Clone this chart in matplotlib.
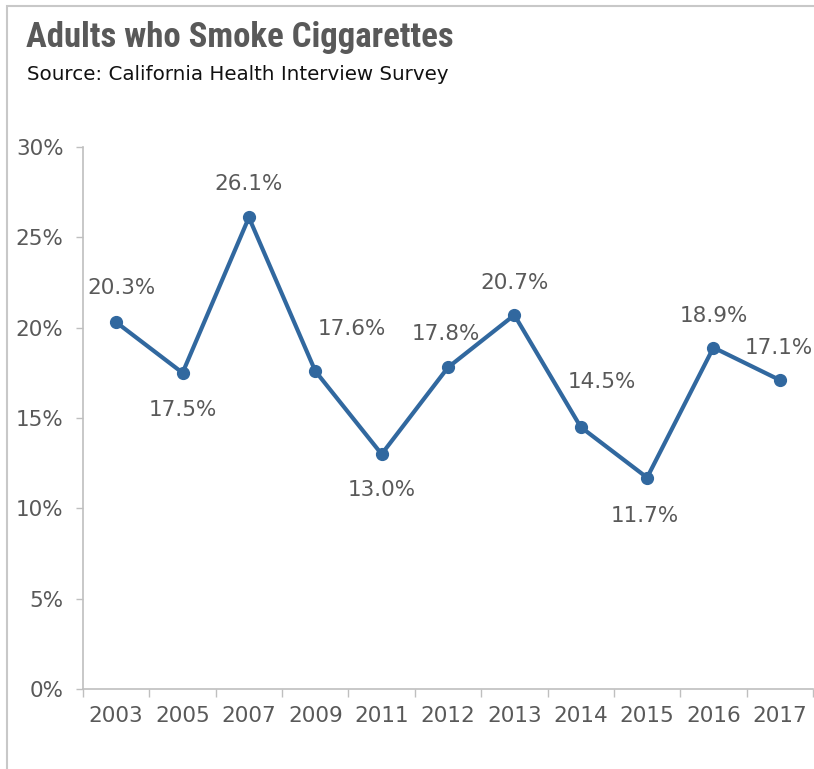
import matplotlib
matplotlib.use("Agg")
import matplotlib.pyplot as plt
from matplotlib.patches import Rectangle
from matplotlib.ticker import FuncFormatter, FixedLocator

years = ["2003", "2005", "2007", "2009", "2011", "2012", "2013", "2014", "2015", "2016", "2017"]
values = [20.3, 17.5, 26.1, 17.6, 13.0, 17.8, 20.7, 14.5, 11.7, 18.9, 17.1]
y_ticks = [0, 5, 10, 15, 20, 25, 30]

# label offsets in pixels (dx, dy; dy positive = up)
label_offsets = [(5, 34), (0, -37), (0, 33), (37, 42), (0, -36), (-2, 33),
                 (0, 32), (21, 45), (-2, -38), (0, 32), (-1, 32)]

DPI = 100
fig = plt.figure(figsize=(8.14, 7.69), dpi=DPI)
W, H = 814, 769

# outer border
fig.patches.append(Rectangle((7 / W, -0.1), 1.2, 1 - 6 / H + 0.1, transform=fig.transFigure,
                             fill=False, edgecolor="#c8c8c8", linewidth=1.5))

ax = fig.add_axes([83 / W, 1 - 689 / H, (813 - 83) / W, (689 - 147) / H])
gray = "#595959"
blue = "#31689f"
font = "DejaVu Sans"
fs = 15.5

x = list(range(len(years)))
ax.plot(x, values, color=blue, linewidth=3, marker="o", markersize=8.5, solid_capstyle="round")

for xi, v, (dx, dy) in zip(x, values, label_offsets):
    ax.annotate(f"{v:.1f}%", (xi, v), xytext=(dx * 72 / DPI, dy * 72 / DPI),
                textcoords="offset points", ha="center", va="center",
                fontsize=fs, color=gray, family=font)

ax.set_xlim(-0.5, len(years) - 0.5)
ax.set_ylim(0, 30)
ax.set_yticks(y_ticks)
ax.yaxis.set_major_formatter(FuncFormatter(lambda v, p: f"{v:.0f}%"))
ax.set_xticks(x)
ax.set_xticklabels(years)
ax.xaxis.set_minor_locator(FixedLocator([i - 0.5 for i in range(len(years) + 1)]))
ax.tick_params(axis="x", which="major", length=0, pad=12, labelsize=fs, labelcolor=gray)
ax.tick_params(axis="x", which="minor", length=6, width=1, color="#bfbfbf", direction="out")
ax.tick_params(axis="y", length=5, width=1, color="#bfbfbf", direction="out", pad=9,
               labelsize=fs, labelcolor=gray)
for lab in ax.get_xticklabels() + ax.get_yticklabels():
    lab.set_family(font)

for s in ["top", "right"]:
    ax.spines[s].set_visible(False)
for s in ["left", "bottom"]:
    ax.spines[s].set_color("#bfbfbf")
    ax.spines[s].set_linewidth(1.2)

fig.text(26 / W, 1 - 47 / H, "Adults who Smoke Ciggarettes", fontsize=25, fontweight="bold",
         color=gray, family=["Roboto Condensed", "DejaVu Sans"], va="baseline", ha="left")
fig.text(27 / W, 1 - 80 / H, "Source: California Health Interview Survey", fontsize=14.3,
         color="#111111", family=font, va="baseline", ha="left")

fig.savefig("out.png", dpi=DPI, facecolor="white")
